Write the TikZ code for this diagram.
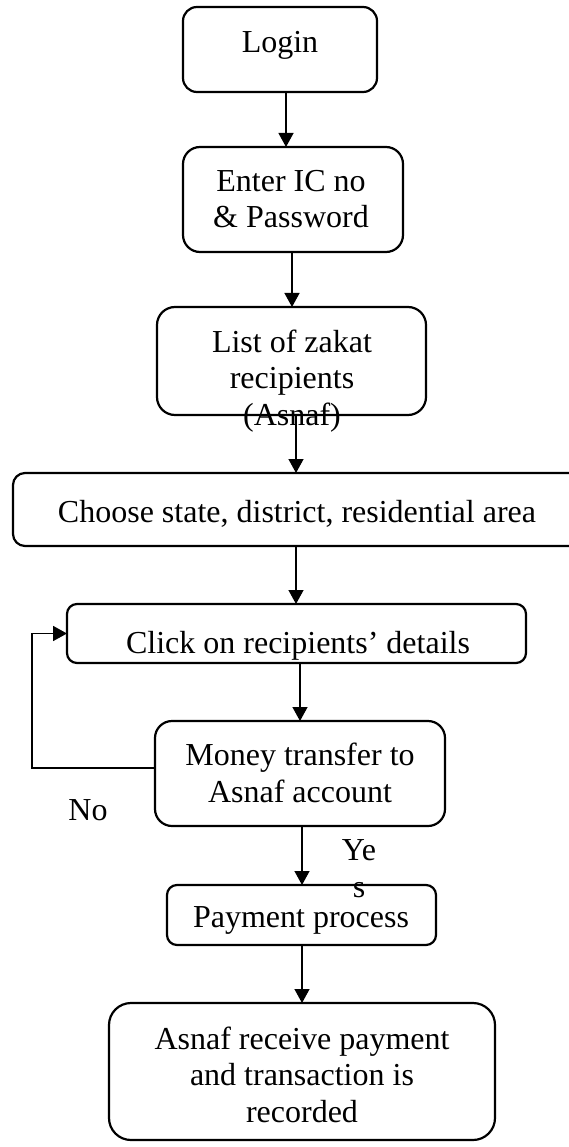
\documentclass[tikz,border=0pt]{standalone}
\usepackage{fontspec}
\setmainfont{Liberation Serif}
\usetikzlibrary{arrows.meta}
\tikzset{
  box/.style={draw, line width=2.2pt, inner sep=0pt, outer sep=0pt},
  txt/.style={inner sep=0pt, outer sep=0pt, anchor=base, align=center,
    font=\fontsize{32}{36.5}\selectfont},
  arr/.style={line width=1.3pt, -{Triangle[length=14pt,width=15pt]}},
  fb/.style={line width=1.8pt, -{Triangle[length=14pt,width=15pt]}}
}
\begin{document}
\begin{tikzpicture}[x=1pt,y=-1pt]
\useasboundingbox (0,0) rectangle (569,1147);
\clip (0,0) rectangle (569,1147);
% boxes
\node[box, minimum width=194pt, minimum height=85pt, rounded corners=14pt] (login) at (280,49.5) {};
\node[box, minimum width=220pt, minimum height=105pt, rounded corners=17pt] (enter) at (293,199.5) {};
\node[box, minimum width=269pt, minimum height=108pt, rounded corners=18pt] (list) at (291.5,361) {};
\node[box, minimum width=568pt, minimum height=73pt, rounded corners=12pt] (choose) at (297,509.5) {};
\node[box, minimum width=459pt, minimum height=59pt, rounded corners=10pt] (click) at (296.5,633.5) {};
\node[box, minimum width=290pt, minimum height=105pt, rounded corners=17pt] (money) at (300,773.5) {};
\node[box, minimum width=269pt, minimum height=60pt, rounded corners=10pt] (pay) at (301.5,915) {};
\node[box, minimum width=386pt, minimum height=137pt, rounded corners=22pt] (asnaf) at (302,1071.5) {};
% texts (multi-line nodes: base = baseline of last line)
\node[txt] (logint) at (280,53) {Login};
\node[txt] (entert) at (291,228) {Enter IC no\\\& Password};
\node[txt] (listt) at (292,425) {List of zakat\\recipients\\(Asnaf)};
\node[txt] (chooset) at (297,522) {Choose state, district, residential area};
\node[txt] (clickt) at (298,653) {Click on recipients’ details};
\node[txt] (moneyt) at (300,802) {Money transfer to\\Asnaf account};
\node[txt] (payt) at (301,927) {Payment process};
\node[txt] (asnaft) at (302,1122) {Asnaf receive payment\\and transaction is\\recorded};
\node[txt] (no) at (88,820) {No};
\node[txt] (yes) at (359,897) {Ye\\s};
% connectors
\draw[arr] ([xshift=6pt]login.south) -- ([xshift=6pt]login.south |- enter.north);
\draw[arr] ([xshift=-1pt]enter.south) -- ([xshift=-1pt]enter.south |- list.north);
\draw[arr] ([xshift=4.5pt]list.south) -- ([xshift=4.5pt]list.south |- choose.north);
\draw[arr] ([xshift=-1pt]choose.south) -- ([xshift=-1pt]choose.south |- click.north);
\draw[arr] ([xshift=3.5pt]click.south) -- ([xshift=3.5pt]click.south |- money.north);
\draw[arr] ([xshift=2pt]money.south) -- ([xshift=2pt]money.south |- pay.north);
\draw[arr] ([xshift=0.5pt]pay.south) -- ([xshift=0.5pt]pay.south |- asnaf.north);
\coordinate (fbx) at (32,0);
\draw[fb] ([yshift=5.5pt]money.west) -| (fbx |- click.west) -- (click.west);
\end{tikzpicture}
\end{document}
